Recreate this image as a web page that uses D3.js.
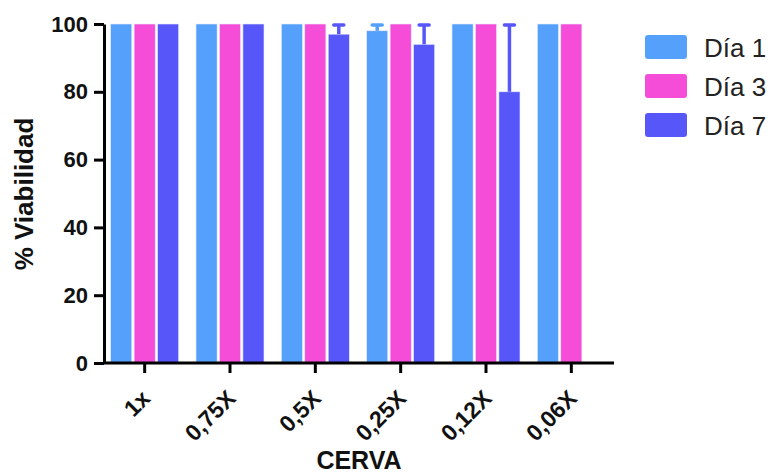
<!DOCTYPE html>
<html>
<head>
<meta charset="utf-8">
<script src="https://cdn.jsdelivr.net/npm/d3@7"></script>
<style>
  body { margin: 0; background: #fff; }
  svg { display: block; font-family: Arial, "Liberation Sans", sans-serif; }
</style>
</head>
<body>
<svg width="777" height="476"></svg>
<script>
// categories and series
var categories = ["1x", "0,75X", "0,5X", "0,25X", "0,12X", "0,06X"];
var series = ["Día 1", "Día 3", "Día 7"];
var colors = ["#55a0fa", "#f64dd9", "#5757f9"];

var dia1 = [100, 100, 100, 98, 100, 100];
var dia3 = [100, 100, 100, 100, 100, 100];
var dia7 = [100, 100, 97, 94, 80, null];

// upward error (SEM), 0 = none drawn
var err1 = [0, 0, 0, 2, 0, 0];
var err3 = [0, 0, 0, 0, 0, 0];
var err7 = [0, 0, 3, 6, 20, 0];

var yTicks = [0, 20, 40, 60, 80, 100];

var values = [dia1, dia3, dia7];
var errors = [err1, err3, err7];

var svg = d3.select("svg");

var xScale = d3.scaleBand().domain(categories).range([102, 614]).padding(0),
    yScale = d3.scaleLinear().domain([0, 100]).range([363, 24]),
    groupWidth = 68,
    xInner = d3.scaleBand().domain(series).range([0, groupWidth]).paddingInner(0.1),
    colorScale = d3.scaleOrdinal().domain(series).range(colors);

// flatten into one row per bar
var bars = [];
categories.forEach(function(c, i) {
  series.forEach(function(s, j) {
    if (values[j][i] == null) return;
    bars.push({cat: c, series: s, value: values[j][i], err: errors[j][i]});
  });
});

function barX(d) {
  return xScale(d.cat) + (xScale.bandwidth() - groupWidth) / 2 + xInner(d.series);
}

var g = svg.append("g");

g.selectAll("rect.bar")
  .data(bars)
  .enter().append("rect")
    .attr("class", "bar")
    .attr("x", barX)
    .attr("y", function(d) { return yScale(d.value); })
    .attr("width", xInner.bandwidth())
    .attr("height", function(d) { return yScale(0) - yScale(d.value); })
    .attr("fill", function(d) { return colorScale(d.series); })
    .attr("stroke", "#e8ecff")
    .attr("stroke-width", 0.6);

// error bars (upward only)
var eb = g.selectAll("g.err")
  .data(bars.filter(function(d) { return d.err > 0; }))
  .enter().append("g")
    .attr("class", "err");

eb.append("line")
    .attr("x1", function(d) { return barX(d) + xInner.bandwidth() / 2; })
    .attr("x2", function(d) { return barX(d) + xInner.bandwidth() / 2; })
    .attr("y1", function(d) { return yScale(d.value); })
    .attr("y2", function(d) { return yScale(d.value + d.err); })
    .attr("stroke", function(d) { return colorScale(d.series); })
    .attr("stroke-width", 3.5);

eb.append("line")
    .attr("x1", function(d) { return barX(d) + xInner.bandwidth() / 2 - 5; })
    .attr("x2", function(d) { return barX(d) + xInner.bandwidth() / 2 + 5; })
    .attr("y1", function(d) { return yScale(d.value + d.err) + 1; })
    .attr("y2", function(d) { return yScale(d.value + d.err) + 1; })
    .attr("stroke", function(d) { return colorScale(d.series); })
    .attr("stroke-width", 3.5)
    .attr("stroke-linecap", "round");

// y axis
var yAxis = g.append("g")
    .attr("transform", "translate(104,0)")
    .call(d3.axisLeft(yScale).tickValues(yTicks).tickSize(10).tickPadding(6).tickSizeOuter(0));
yAxis.select(".domain").attr("stroke", "#000").attr("stroke-width", 3);
yAxis.selectAll(".tick line").attr("stroke", "#000").attr("stroke-width", 3);
yAxis.selectAll(".tick text")
    .attr("fill", "#111")
    .style("font-size", "22px")
    .style("font-weight", "bold");

// x axis
var xAxis = g.append("g")
    .attr("transform", "translate(0,363)")
    .call(d3.axisBottom(xScale).tickSize(10).tickSizeOuter(0));
xAxis.select(".domain").attr("d", "M103,0H614").attr("stroke", "#000").attr("stroke-width", 3);
xAxis.selectAll(".tick line").attr("stroke", "#000").attr("stroke-width", 3);
xAxis.selectAll(".tick text")
    .attr("fill", "#111")
    .attr("text-anchor", "end")
    .attr("dy", "0")
    .attr("y", 0)
    .attr("transform", "translate(7,37) rotate(-45)")
    .style("font-size", "23px")
    .style("font-weight", "bold");

// axis titles
svg.append("text")
    .attr("transform", "translate(33,194) rotate(-90)")
    .attr("text-anchor", "middle")
    .style("font-size", "26px")
    .style("font-weight", "bold")
    .attr("fill", "#111")
    .text("% Viabilidad");

svg.append("text")
    .attr("x", 359)
    .attr("y", 469)
    .attr("text-anchor", "middle")
    .style("font-size", "25px")
    .style("font-weight", "bold")
    .attr("fill", "#111")
    .text("CERVA");

// legend
var legend = svg.selectAll("g.legend")
  .data(series)
  .enter().append("g")
    .attr("class", "legend")
    .attr("transform", function(d, i) { return "translate(645," + (35 + i * 39) + ")"; });

legend.append("rect")
    .attr("width", 42)
    .attr("height", 24)
    .attr("rx", 3)
    .attr("fill", function(d) { return colorScale(d); });

legend.append("text")
    .attr("x", 59)
    .attr("y", 22)
    .style("font-size", "26px")
    .attr("fill", "#222")
    .text(function(d) { return d; });
</script>
</body>
</html>
